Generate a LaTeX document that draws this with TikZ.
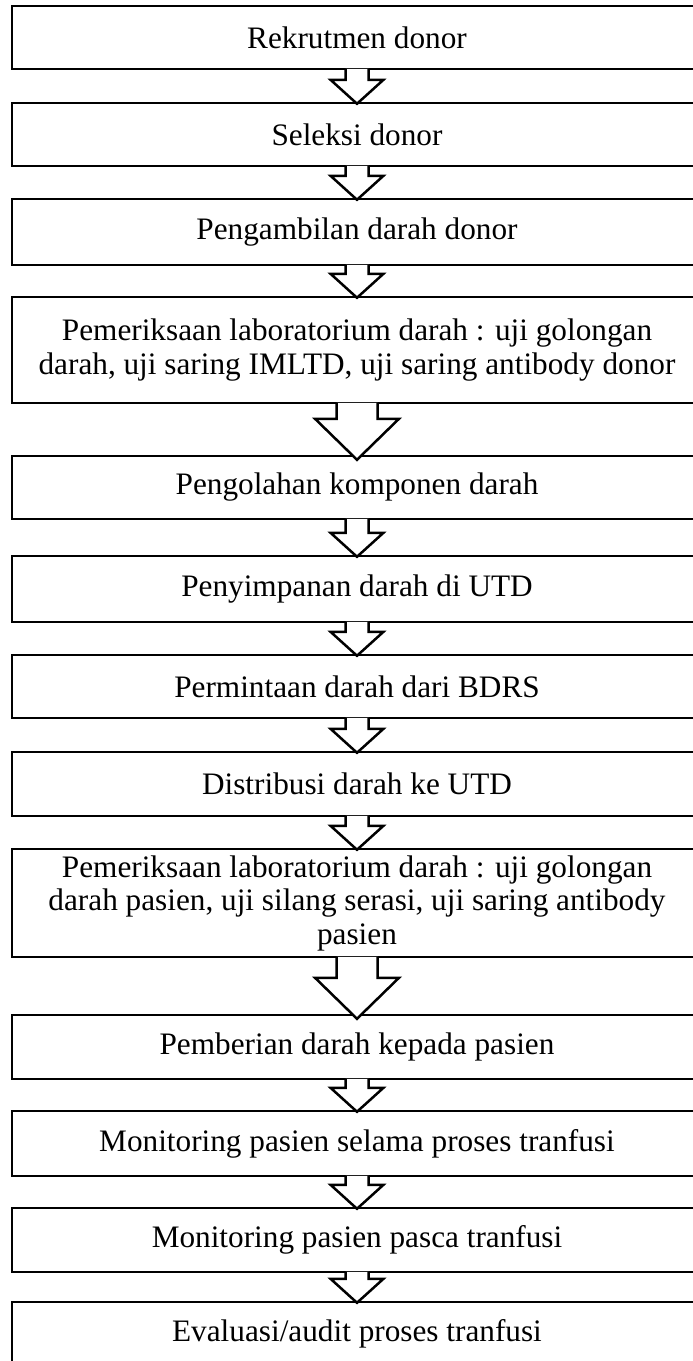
\documentclass[tikz,border=0pt]{standalone}
\usepackage{fontspec}
\setmainfont{Liberation Serif}
\usetikzlibrary{calc}
\tikzset{
  stepbox/.style={draw, line width=1pt, minimum width=690*0.4pt, inner sep=0pt,
    align=center, font=\fontsize{12.5}{13.4}\selectfont},
  blockarrow/.style={draw, fill=white, line width=1pt, line join=miter}
}
\begin{document}
\begin{tikzpicture}[x=0.4pt,y=-0.4pt]
      \def\cx{357};
      \useasboundingbox (0,0) rectangle (693,1361);
      \clip (0,0) rectangle (693,1361);
      % langkah-langkah
      \node[stepbox, minimum height=63*0.4pt] (rekrutmen) at (\cx,37.5) {Rekrutmen donor};
      \node[stepbox, minimum height=63*0.4pt] (seleksi) at (\cx,134.5) {Seleksi donor};
      \node[stepbox, minimum height=66*0.4pt] (pengambilan) at (\cx,232) {Pengambilan darah donor};
      \node[stepbox, minimum height=106*0.4pt] (labdonor) at (\cx,350) {Pemeriksaan laboratorium darah : uji golongan\\darah, uji saring IMLTD, uji saring antibody donor};
      \node[stepbox, minimum height=63*0.4pt] (pengolahan) at (\cx,487.5) {Pengolahan komponen darah};
      \node[stepbox, minimum height=66*0.4pt] (penyimpanan) at (\cx,589) {Penyimpanan darah di UTD};
      \node[stepbox, minimum height=63*0.4pt] (permintaan) at (\cx,686.5) {Permintaan darah dari BDRS};
      \node[stepbox, minimum height=64*0.4pt] (distribusi) at (\cx,784) {Distribusi darah ke UTD};
      \node[stepbox, minimum height=108*0.4pt] (labpasien) at (\cx,903) {Pemeriksaan laboratorium darah : uji golongan\\darah pasien, uji silang serasi, uji saring antibody\\pasien};
      \node[stepbox, minimum height=64*0.4pt] (pemberian) at (\cx,1047) {Pemberian darah kepada pasien};
      \node[stepbox, minimum height=65*0.4pt] (monselama) at (\cx,1143.5) {Monitoring pasien selama proses tranfusi};
      \node[stepbox, minimum height=64*0.4pt] (monpasca) at (\cx,1240) {Monitoring pasien pasca tranfusi};
      \node[stepbox, minimum height=64*0.4pt] (evaluasi) at (\cx,1334) {Evaluasi/audit proses tranfusi};
      % panah blok
      \foreach \a/\b/\s/\h/\l/\o in {rekrutmen/seleksi/11.5/26.5/24/2, seleksi/pengambilan/11.5/26.5/24/2,
          pengambilan/labdonor/11.5/26.5/24/2, labdonor/pengolahan/20.5/42/41/5,
          pengolahan/penyimpanan/11.5/26.5/24/2, penyimpanan/permintaan/11.5/26.5/24/2,
          permintaan/distribusi/11.5/26.5/24/2, distribusi/labpasien/11.5/26.5/24/2,
          labpasien/pemberian/20.5/42/41/5, pemberian/monselama/11.5/26.5/24/2,
          monselama/monpasca/11.5/26.5/24/2, monpasca/evaluasi/11.5/26.5/24/2}
      {
        \draw[blockarrow] ($(\a.south)+(-\s,-1.3)$) -- ($(\b.north)+(-\s,\o-\l)$)
          -- ($(\b.north)+(-\h,\o-\l)$) -- ($(\b.north)+(0,\o)$)
          -- ($(\b.north)+(\h,\o-\l)$) -- ($(\b.north)+(\s,\o-\l)$)
          -- ($(\a.south)+(\s,-1.3)$);
      }
\end{tikzpicture}
\end{document}
